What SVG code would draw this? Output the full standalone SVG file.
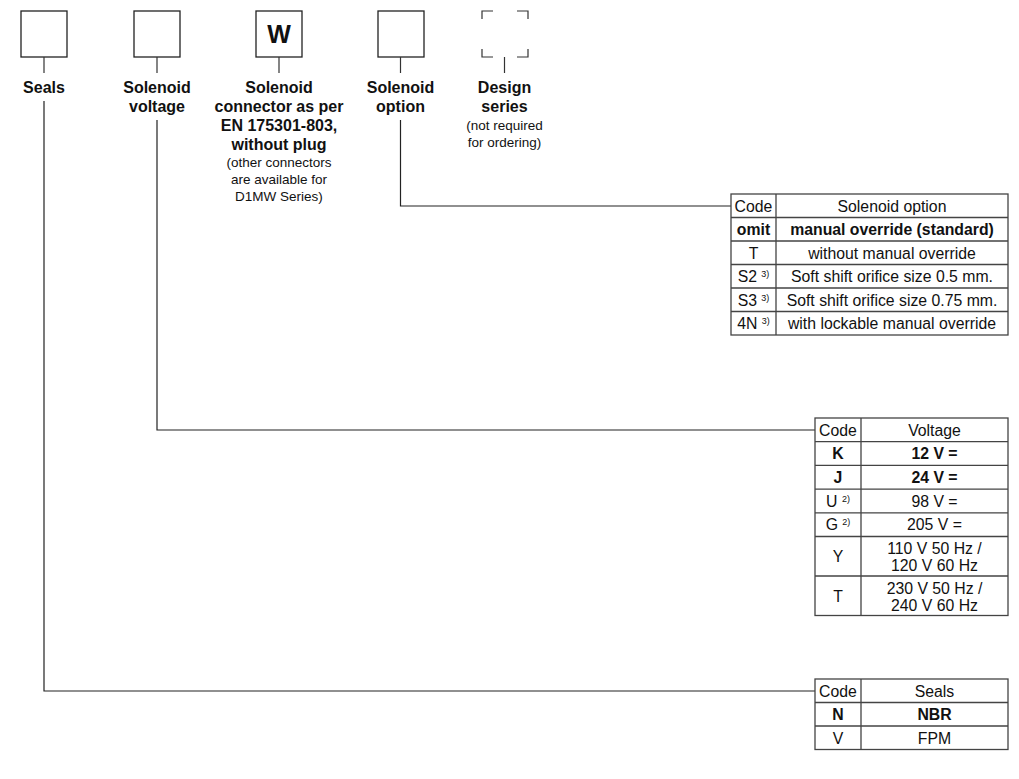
<svg xmlns="http://www.w3.org/2000/svg" width="1019" height="779" viewBox="0 0 1019 779">
<style>
  .box{fill:#fff;stroke:#222;stroke-width:1.3}
  .tick{stroke:#333;stroke-width:1.2;fill:none}
  .conn{stroke:#222;stroke-width:1.2;fill:none}
  .tbl{fill:#fff;stroke:#444;stroke-width:1.3}
  .grid{stroke:#444;stroke-width:1.3;fill:none}
  text{font-family:"Liberation Sans",Arial,sans-serif;fill:#111;text-anchor:middle}
  .lbl{font-size:16px;font-weight:bold}
  .sm{font-size:13.5px}
  .t{font-size:15.8px}
  .b{font-weight:bold}
  .sup{font-size:9px}
</style>

<g id="connectors">
  <path class="conn" d="M44,101 V691 H815"/>
  <path class="conn" d="M157,120 V430 H815"/>
  <path class="conn" d="M400.5,120 V206 H731"/>
</g>

<g id="node-seals">
  <rect class="box" x="21" y="11" width="46" height="46"/>
  <line class="tick" x1="44" y1="57" x2="44" y2="73"/>
  <text class="lbl" x="44" y="93">Seals</text>
</g>

<g id="node-voltage">
  <rect class="box" x="134" y="11" width="46" height="46"/>
  <line class="tick" x1="157" y1="57" x2="157" y2="73"/>
  <text class="lbl" x="157" y="93">Solenoid</text>
  <text class="lbl" x="157" y="112">voltage</text>
</g>

<g id="node-connector">
  <rect class="box" x="256" y="11" width="46" height="46"/>
  <text x="279" y="43" style="font-size:25px;font-weight:bold">W</text>
  <line class="tick" x1="279" y1="57" x2="279" y2="73"/>
  <text class="lbl" x="279" y="93">Solenoid</text>
  <text class="lbl" x="279" y="112">connector as per</text>
  <text class="lbl" x="279" y="131">EN 175301-803,</text>
  <text class="lbl" x="279" y="150">without plug</text>
  <text class="sm" x="279" y="167">(other connectors</text>
  <text class="sm" x="279" y="184">are available for</text>
  <text class="sm" x="279" y="201">D1MW Series)</text>
</g>

<g id="node-option">
  <rect class="box" x="378" y="11" width="46" height="46"/>
  <line class="tick" x1="400.5" y1="57" x2="400.5" y2="73"/>
  <text class="lbl" x="400.5" y="93">Solenoid</text>
  <text class="lbl" x="400.5" y="112">option</text>
</g>

<g id="node-design">
  <path class="tick" d="M482,19 V11 H493 M517,11 H528 V19 M528,49 V57 H517 M493,57 H482 V49"/>
  <line class="tick" x1="504.5" y1="57" x2="504.5" y2="73"/>
  <text class="lbl" x="504.5" y="93">Design</text>
  <text class="lbl" x="504.5" y="112">series</text>
  <text class="sm" x="504.5" y="130">(not required</text>
  <text class="sm" x="504.5" y="147">for ordering)</text>
</g>

<g id="table-option">
  <rect class="tbl" x="731" y="194" width="277" height="141"/>
  <path class="grid" d="M776,194 V335 M731,217.5 H1008 M731,241 H1008 M731,264.5 H1008 M731,288 H1008 M731,311.5 H1008"/>
  <text class="t" x="753.5" y="211.5">Code</text>
  <text class="t" x="892" y="211.5">Solenoid option</text>
  <text class="t b" x="753.5" y="235">omit</text>
  <text class="t b" x="892" y="235">manual override (standard)</text>
  <text class="t" x="753.5" y="258.5">T</text>
  <text class="t" x="892" y="258.5">without manual override</text>
  <text class="t" x="753.5" y="282">S2 <tspan class="sup" dy="-5">3)</tspan></text>
  <text class="t" x="892" y="282">Soft shift orifice size 0.5 mm.</text>
  <text class="t" x="753.5" y="305.5">S3 <tspan class="sup" dy="-5">3)</tspan></text>
  <text class="t" x="892" y="305.5">Soft shift orifice size 0.75 mm.</text>
  <text class="t" x="753.5" y="329">4N <tspan class="sup" dy="-5">3)</tspan></text>
  <text class="t" x="892" y="329">with lockable manual override</text>
</g>

<g id="table-voltage">
  <rect class="tbl" x="815" y="418" width="193" height="197.5"/>
  <path class="grid" d="M861,418 V615.5 M815,441.7 H1008 M815,465.4 H1008 M815,489.1 H1008 M815,512.8 H1008 M815,536.5 H1008 M815,576 H1008"/>
  <text class="t" x="838" y="435.5">Code</text>
  <text class="t" x="934.5" y="435.5">Voltage</text>
  <text class="t b" x="838" y="459">K</text>
  <text class="t b" x="934.5" y="459">12 V =</text>
  <text class="t b" x="838" y="483">J</text>
  <text class="t b" x="934.5" y="483">24 V =</text>
  <text class="t" x="838" y="506.5">U <tspan class="sup" dy="-5">2)</tspan></text>
  <text class="t" x="934.5" y="506.5">98 V =</text>
  <text class="t" x="838" y="530">G <tspan class="sup" dy="-5">2)</tspan></text>
  <text class="t" x="934.5" y="530">205 V =</text>
  <text class="t" x="838" y="562">Y</text>
  <text class="t" x="934.5" y="554">110 V 50 Hz /</text>
  <text class="t" x="934.5" y="570.5">120 V 60 Hz</text>
  <text class="t" x="838" y="601.5">T</text>
  <text class="t" x="934.5" y="594">230 V 50 Hz /</text>
  <text class="t" x="934.5" y="610.5">240 V 60 Hz</text>
</g>

<g id="table-seals">
  <rect class="tbl" x="815" y="679" width="193" height="70.5"/>
  <path class="grid" d="M861,679 V749.5 M815,702.5 H1008 M815,726 H1008"/>
  <text class="t" x="838" y="696.5">Code</text>
  <text class="t" x="934.5" y="696.5">Seals</text>
  <text class="t b" x="838" y="720">N</text>
  <text class="t b" x="934.5" y="720">NBR</text>
  <text class="t" x="838" y="743.5">V</text>
  <text class="t" x="934.5" y="743.5">FPM</text>
</g>
</svg>
